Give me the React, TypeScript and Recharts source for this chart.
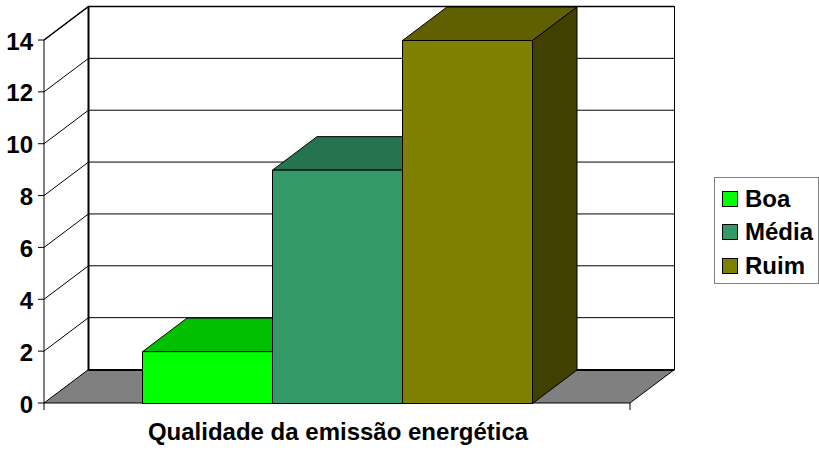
import React from "react";
import { BarChart, Bar, XAxis, YAxis, CartesianGrid, Legend, ReferenceArea } from "recharts";

const categories = ["Qualidade da emissão energética"];
const seriesNames = ["Boa", "Média", "Ruim"];
const boaValues = [2];
const mediaValues = [9];
const ruimValues = [14];
const yTicks = [0, 2, 4, 6, 8, 10, 12, 14];

const data = categories.map((name, i) => ({
  name,
  [seriesNames[0]]: boaValues[i],
  [seriesNames[1]]: mediaValues[i],
  [seriesNames[2]]: ruimValues[i],
}));

const FONT = "'Liberation Sans', Arial, sans-serif";
const DX = 44.5; // depth of the 3D box
const DY = 33.5;

// bar front plus the shaded top and side faces
const Bar3D = (props: any) => {
  const { fill, topFill, sideFill, width, height } = props;
  const x = props.x + 0.5;
  const y = props.y + 0.5;
  const r = x + width;
  const b = y + height;
  return (
    <g stroke="#000" strokeWidth={1} strokeLinejoin="round">
      <path d={`M${x} ${y}L${x + DX} ${y - DY}L${r + DX} ${y - DY}L${r} ${y}Z`} fill={topFill} />
      <path d={`M${r} ${y}L${r + DX} ${y - DY}L${r + DX} ${b - DY}L${r} ${b}Z`} fill={sideFill} />
      <rect x={x} y={y} width={width} height={height} fill={fill} />
    </g>
  );
};

// floor, back wall edges and side wall
const Box3D = (props: any) => {
  const { x, y, width, height } = props;
  const r = x + width;
  const b = y + height;
  return (
    <g>
      <path d={`M${x} ${b}L${x + DX} ${b - DY}L${r + DX} ${b - DY}L${r} ${b}Z`} fill="#808080" stroke="none" />
      <path d={`M${x + DX} ${y - DY}V${b - DY + 1}`} stroke="#000" strokeWidth={2} fill="none" />
      <path d={`M${x + DX} ${b - DY + 0.5}H${r + DX}`} stroke="#000" strokeWidth={2} fill="none" />
      <path d={`M${x} ${y}L${x + DX} ${y - DY}H${r + DX}`} stroke="#000" strokeWidth={1.5} fill="none" />
      <path d={`M${r + DX} ${y - DY}V${b - DY}L${r} ${b}`} stroke="#000" strokeWidth={1} fill="none" />
      <path d={`M${x} ${b}L${x + DX} ${b - DY}`} stroke="#000" strokeWidth={1} fill="none" />
      <path d={`M${x} ${b}H${r}M${x} ${b}v7M${r} ${b}v7`} stroke="#000" strokeWidth={1} fill="none" />
    </g>
  );
};

// horizontal grid line folded along the side wall and back wall
const gridLine = (props: any) => {
  const { x1, x2, y1, index } = props;
  if (y1 >= 400 || index === undefined) return <g key={`g-${y1}`} />;
  return (
    <path
      key={`g-${y1}`}
      d={`M${x1} ${y1}L${x1 + DX} ${y1 - DY}H${x2 + DX}`}
      stroke="#000"
      strokeWidth={1}
      fill="none"
    />
  );
};

const LegendBox = ({ payload }: any) => (
  <div
    style={{
      boxSizing: "border-box",
      width: 105,
      height: 107,
      border: "1px solid #808080",
      background: "#fff",
      fontFamily: FONT,
      fontWeight: 700,
      fontSize: 24,
      color: "#000",
      paddingTop: 4,
    }}
  >
    {(payload ?? []).map((item: any) => (
      <div key={item.value} style={{ display: "flex", alignItems: "center", height: 33.5, paddingLeft: 7 }}>
        <span style={{ boxSizing: "border-box", width: 16, height: 16, background: item.color, border: "1px solid #000", marginRight: 7 }} />
        {item.value}
      </div>
    ))}
  </div>
);

export default function App() {
  return (
    <div style={{ position: "absolute", left: 0, top: 0, width: 819, height: 451, background: "#fff" }}>
      <BarChart
        width={819}
        height={451}
        data={data}
        barSize={130}
        barGap={0}
        margin={{ top: 40, right: 84, bottom: 0, left: 0 }}
      >
        <ReferenceArea y1={0} y2={14} ifOverflow="visible" shape={Box3D} fill="none" stroke="none" />
        <CartesianGrid vertical={false} horizontal={gridLine} syncWithTicks />
        <XAxis
          dataKey="name"
          height={48}
          tickLine={false}
          axisLine={false}
          tickMargin={14}
          tick={{ fill: "#000", fontSize: 24, fontWeight: 700, fontFamily: FONT, dx: 1 }}
        />
        <YAxis
          width={44}
          domain={[0, 14]}
          ticks={yTicks}
          interval={0}
          tickSize={6}
          tickMargin={5}
          stroke="#000"
          tick={{ fill: "#000", fontSize: 24, fontWeight: 700, fontFamily: FONT, dy: 1 }}
        />
        <Legend
          layout="vertical"
          align="right"
          verticalAlign="middle"
          content={<LegendBox />}
          wrapperStyle={{ left: 714, top: 177, right: "auto", width: 105 }}
        />
        <Bar dataKey={seriesNames[0]} fill="#00FF00" isAnimationActive={false} shape={<Bar3D topFill="#00C000" sideFill="#008000" />} />
        <Bar dataKey={seriesNames[1]} fill="#339966" isAnimationActive={false} shape={<Bar3D topFill="#267350" sideFill="#1A4D33" />} />
        <Bar dataKey={seriesNames[2]} fill="#808000" isAnimationActive={false} shape={<Bar3D topFill="#606000" sideFill="#404000" />} />
      </BarChart>
    </div>
  );
}
